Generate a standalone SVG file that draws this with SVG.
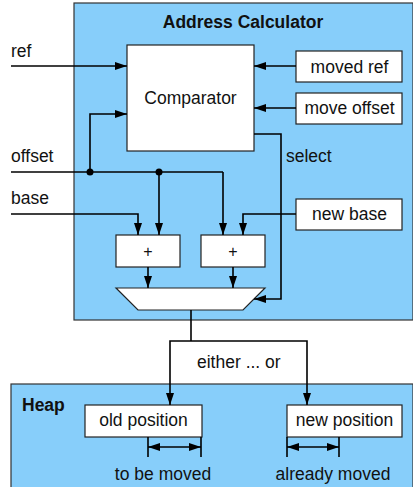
<svg xmlns="http://www.w3.org/2000/svg" width="413" height="487" viewBox="0 0 413 487">
  <style>
    .area { fill: #87cefa; stroke: #333; stroke-width: 1.2; }
    .box { fill: #fff; stroke: #222; stroke-width: 1.2; }
    .lbl { font-family: "Liberation Sans", Arial, sans-serif; font-size: 17.5px; fill: #111; }
    .ttl { font-family: "Liberation Sans", Arial, sans-serif; font-size: 17.5px; font-weight: bold; fill: #111; }
    .mid { text-anchor: middle; }
    .wire { fill: none; stroke: #000; stroke-width: 1.6; }
    .arr { marker-end: url(#head); }
    .dbl { marker-start: url(#tail); marker-end: url(#head); }
    .tick { stroke: #000; stroke-width: 1.6; }
  </style>
  <defs>
    <marker id="head" viewBox="0 0 12 8" refX="12" refY="4" markerWidth="12" markerHeight="8" markerUnits="userSpaceOnUse" orient="auto">
      <path d="M0,0 L12,4 L0,8 Z" fill="#000"/>
    </marker>
    <marker id="tail" viewBox="0 0 12 8" refX="0" refY="4" markerWidth="12" markerHeight="8" markerUnits="userSpaceOnUse" orient="auto">
      <path d="M12,0 L0,4 L12,8 Z" fill="#000"/>
    </marker>
  </defs>

  <!-- enclosing regions -->
  <g id="address-calculator">
    <rect class="area" x="74" y="3" width="339" height="317"/>
    <text class="ttl mid" x="243" y="28">Address Calculator</text>
  </g>
  <g id="heap">
    <rect class="area" x="11" y="384" width="402" height="110"/>
    <text class="ttl" x="22" y="411">Heap</text>
  </g>

  <!-- external inputs -->
  <g id="in-ref"><text class="lbl" x="11" y="57">ref</text></g>
  <g id="in-offset"><text class="lbl" x="11" y="162">offset</text></g>
  <g id="in-base"><text class="lbl" x="11" y="204">base</text></g>

  <!-- blocks -->
  <g id="comparator">
    <rect class="box" x="127" y="45" width="127" height="106"/>
    <text class="lbl mid" x="190.5" y="104">Comparator</text>
  </g>
  <g id="moved-ref">
    <rect class="box" x="296" y="51" width="106" height="31"/>
    <text class="lbl mid" x="349.5" y="73">moved ref</text>
  </g>
  <g id="move-offset">
    <rect class="box" x="296" y="93" width="106" height="31"/>
    <text class="lbl mid" x="349.5" y="114">move offset</text>
  </g>
  <g id="new-base">
    <rect class="box" x="296" y="199" width="106" height="31"/>
    <text class="lbl mid" x="349.5" y="220">new base</text>
  </g>
  <g id="adder-1">
    <rect class="box" x="116" y="235" width="64" height="32"/>
    <text class="lbl mid" x="148" y="257" style="font-size:16px">+</text>
  </g>
  <g id="adder-2">
    <rect class="box" x="201" y="235" width="64" height="32"/>
    <text class="lbl mid" x="233" y="257" style="font-size:16px">+</text>
  </g>
  <g id="mux">
    <path class="box" d="M116,288 L265,288 L243,310 L138,310 Z"/>
  </g>
  <g id="old-position">
    <rect class="box" x="85" y="405" width="117" height="32"/>
    <text class="lbl mid" x="143.5" y="426">old position</text>
  </g>
  <g id="new-position">
    <rect class="box" x="287" y="405" width="115" height="32"/>
    <text class="lbl mid" x="344.5" y="426">new position</text>
  </g>

  <!-- connectors -->
  <g id="connectors">
    <path class="wire arr" d="M11,66 H127"/>
    <path class="wire arr" d="M296,66 H254"/>
    <path class="wire arr" d="M296,108 H254"/>
    <path class="wire" d="M11,172 H223"/>
    <path class="wire arr" d="M90,172 V114 H127"/>
    <path class="wire arr" d="M159,172 V235"/>
    <path class="wire arr" d="M223,172 V235"/>
    <path class="wire arr" d="M11,214 H138 V235"/>
    <path class="wire arr" d="M296,214 H243 V235"/>
    <circle cx="90" cy="172" r="3.5" fill="#000"/>
    <circle cx="159" cy="172" r="3.5" fill="#000"/>
    <path class="wire arr" d="M148,267 V288"/>
    <path class="wire arr" d="M233,267 V288"/>
    <path class="wire arr" d="M254,134 H281 V299 H254"/>
    <text class="lbl" x="286" y="162">select</text>
    <path class="wire" d="M191,310 V341"/>
    <path class="wire arr" d="M191,341 H170 V405"/>
    <path class="wire arr" d="M191,341 H307 V405"/>
    <text class="lbl" x="197" y="368">either ... or</text>
    <!-- extents inside the heap -->
    <path class="tick" d="M148,437 V457 M201,437 V457"/>
    <path class="wire dbl" d="M148,447 H201"/>
    <text class="lbl mid" x="163" y="480">to be moved</text>
    <path class="tick" d="M287,437 V457 M339,437 V457"/>
    <path class="wire dbl" d="M287,447 H339"/>
    <text class="lbl mid" x="333" y="480">already moved</text>
  </g>
</svg>
